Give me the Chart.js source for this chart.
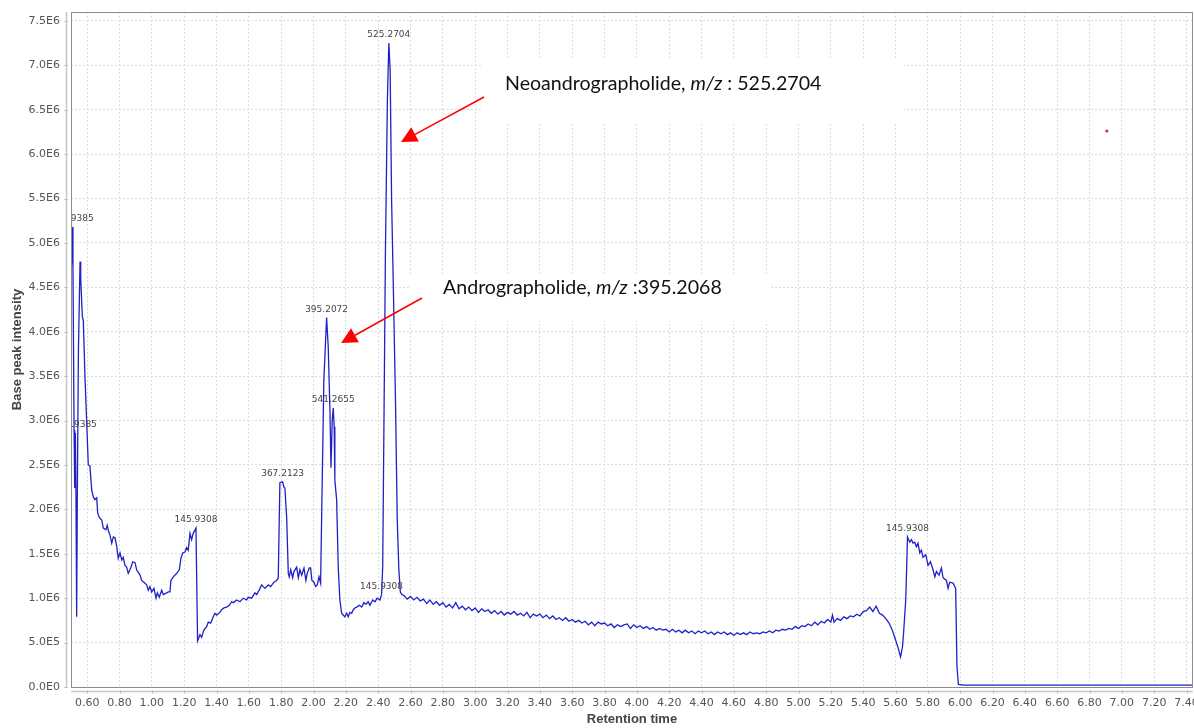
<!DOCTYPE html>
<html>
<head>
<meta charset="utf-8">
<title>Base peak chromatogram</title>
<script src="https://cdn.jsdelivr.net/npm/chart.js@4.4.1/dist/chart.umd.min.js"></script>
<style>
  html, body { margin: 0; padding: 0; background: #fff; }
  #wrap { width: 1194px; height: 728px; }
</style>
</head>
<body>
<div id="wrap"><canvas id="bpc" width="1194" height="728"></canvas></div>
<script>
// retention time (min) and base peak intensity (x 1E6)
const retentionTime = [
  0.503,0.508,0.512,0.519,0.523,0.527,0.531,0.535,0.539,0.546,
  0.556,0.560,0.570,0.576,0.587,0.599,0.607,0.617,0.628,0.638,
  0.648,0.659,0.665,0.675,0.690,0.700,0.716,0.724,0.733,0.741,
  0.752,0.762,0.772,0.783,0.792,0.803,0.814,0.823,0.834,0.844,
  0.854,0.869,0.882,0.896,0.906,0.927,0.937,0.951,0.968,0.978,
  0.988,0.999,1.013,1.026,1.034,1.046,1.061,1.071,1.092,1.102,
  1.112,1.118,1.133,1.154,1.170,1.180,1.191,1.205,1.215,1.225,
  1.236,1.246,1.256,1.273,1.283,1.298,1.308,1.322,1.339,1.349,
  1.364,1.380,1.390,1.401,1.421,1.432,1.446,1.463,1.479,1.494,
  1.504,1.525,1.545,1.565,1.586,1.596,1.617,1.638,1.648,1.664,
  1.679,1.700,1.720,1.735,1.755,1.772,1.782,1.792,1.809,1.817,
  1.823,1.834,1.844,1.850,1.859,1.871,1.879,1.896,1.906,1.916,
  1.927,1.941,1.953,1.961,1.974,1.982,1.990,2.003,2.013,2.023,
  2.034,2.044,2.050,2.064,2.081,2.091,2.102,2.108,2.116,2.122,
  2.128,2.132,2.143,2.153,2.163,2.174,2.184,2.194,2.205,2.215,
  2.225,2.236,2.246,2.256,2.267,2.283,2.298,2.312,2.324,2.338,
  2.349,2.366,2.380,2.394,2.411,2.421,2.428,2.445,2.457,2.466,
  2.474,2.483,2.493,2.507,2.518,2.528,2.537,2.547,
  2.56,2.58,2.60,2.62,2.64,2.66,2.68,2.70,2.72,2.74,
  2.76,2.78,2.80,2.82,2.84,2.86,2.88,2.90,2.92,2.94,
  2.96,2.98,3.00,3.02,3.04,3.06,3.08,3.10,3.12,3.14,
  3.16,3.18,3.20,3.22,3.24,3.26,3.28,3.30,3.32,3.34,
  3.36,3.38,3.40,3.42,3.44,3.46,3.48,3.50,3.52,3.54,
  3.56,3.58,3.60,3.62,3.64,3.66,3.68,3.70,3.72,3.74,
  3.76,3.78,3.80,3.82,3.84,3.86,3.88,3.90,3.92,3.94,
  3.96,3.98,4.00,4.02,4.04,4.06,4.08,4.10,4.12,4.14,
  4.16,4.18,4.20,4.22,4.24,4.26,4.28,4.30,4.32,4.34,
  4.36,4.38,4.40,4.42,4.44,4.46,4.48,4.50,4.52,4.54,
  4.56,4.58,4.60,4.62,4.64,4.66,4.68,4.70,4.72,4.74,
  4.76,4.78,4.80,4.82,4.84,4.86,4.88,4.90,4.92,4.94,
  4.96,4.98,5.00,5.02,5.04,5.06,5.08,5.10,5.12,5.14,
  5.16,5.18,5.20,5.21,5.22,5.24,5.26,5.28,5.30,5.32,
  5.34,5.36,5.38,5.40,5.42,5.44,5.46,5.48,5.50,5.52,
  5.54,5.56,5.58,
  5.595,5.616,5.631,5.643,5.651,5.663,5.668,5.674,5.688,
  5.699,5.708,5.719,5.729,5.739,5.750,5.760,5.770,5.787,5.801,
  5.816,5.832,5.843,5.853,5.869,5.884,5.894,5.915,5.925,5.935,
  5.956,5.972,5.980,5.989,6.018,7.438
];
const intensityE6 = [
  4.75,5.18,4.75,2.89,2.24,2.86,2.11,0.79,2.11,3.80,
  4.79,4.61,4.17,4.13,3.46,2.89,2.50,2.49,2.22,2.14,
  2.11,2.13,1.96,1.91,1.88,1.79,1.77,1.82,1.75,1.71,
  1.62,1.69,1.68,1.58,1.45,1.51,1.43,1.46,1.37,1.35,
  1.28,1.34,1.41,1.40,1.32,1.26,1.20,1.18,1.15,1.09,
  1.13,1.07,1.11,1.00,1.06,1.01,1.09,1.04,1.06,1.07,
  1.07,1.20,1.24,1.28,1.32,1.45,1.51,1.52,1.57,1.54,
  1.73,1.66,1.73,1.79,0.52,0.59,0.56,0.64,0.68,0.73,
  0.72,0.79,0.83,0.81,0.84,0.87,0.89,0.90,0.92,0.96,
  0.95,0.98,0.96,1.00,0.98,1.01,1.00,1.06,1.04,1.09,
  1.15,1.11,1.15,1.13,1.18,1.20,1.23,2.30,2.31,2.25,
  2.24,1.91,1.28,1.24,1.32,1.23,1.30,1.35,1.23,1.32,
  1.26,1.34,1.20,1.28,1.34,1.34,1.20,1.18,1.13,1.15,
  1.24,1.17,1.88,3.46,4.16,3.83,3.09,2.47,3.01,3.14,
  2.93,2.33,2.11,1.35,0.98,0.83,0.81,0.79,0.83,0.79,
  0.84,0.83,0.87,0.89,0.90,0.92,0.90,0.95,0.93,0.96,
  0.92,0.98,0.96,1.00,0.98,1.04,1.35,4.92,6.61,7.25,
  6.95,5.48,4.58,3.23,1.88,1.32,1.07,1.04,
  1.03,0.99,1.02,0.98,1.01,0.97,0.99,0.94,0.98,0.93,
  0.96,0.92,0.95,0.90,0.93,0.89,0.95,0.88,0.91,0.87,
  0.90,0.86,0.89,0.84,0.88,0.85,0.87,0.83,0.86,0.82,
  0.85,0.81,0.84,0.82,0.85,0.81,0.83,0.80,0.84,0.78,
  0.82,0.80,0.82,0.78,0.81,0.77,0.80,0.76,0.78,0.75,
  0.78,0.74,0.76,0.73,0.75,0.72,0.74,0.70,0.73,0.69,
  0.73,0.71,0.72,0.69,0.71,0.67,0.70,0.68,0.70,0.71,
  0.66,0.70,0.67,0.69,0.66,0.68,0.65,0.67,0.64,0.66,
  0.64,0.65,0.62,0.65,0.62,0.64,0.61,0.64,0.61,0.63,
  0.60,0.63,0.61,0.63,0.60,0.62,0.59,0.62,0.60,0.62,
  0.59,0.61,0.58,0.61,0.59,0.61,0.59,0.62,0.60,0.61,
  0.60,0.62,0.61,0.63,0.61,0.64,0.63,0.65,0.64,0.66,
  0.65,0.68,0.66,0.69,0.68,0.71,0.69,0.73,0.70,0.74,
  0.72,0.76,0.73,0.81,0.73,0.77,0.75,0.79,0.77,0.80,
  0.79,0.82,0.80,0.85,0.86,0.90,0.85,0.91,0.83,0.81,
  0.77,0.72,0.64,
  0.56,0.44,0.34,0.45,0.64,0.98,1.28,1.69,1.63,
  1.66,1.62,1.63,1.58,1.62,1.51,1.54,1.46,1.49,1.37,
  1.41,1.32,1.24,1.30,1.26,1.34,1.23,1.20,1.11,1.18,
  1.17,1.11,0.23,0.03,0.02,0.02
];

const xTicks = [0.60,0.80,1.00,1.20,1.40,1.60,1.80,2.00,2.20,2.40,2.60,2.80,3.00,3.20,3.40,3.60,3.80,
  4.00,4.20,4.40,4.60,4.80,5.00,5.20,5.40,5.60,5.80,6.00,6.20,6.40,6.60,6.80,7.00,7.20,7.40];
const yTicks = [0, 0.5e6, 1.0e6, 1.5e6, 2.0e6, 2.5e6, 3.0e6, 3.5e6, 4.0e6, 4.5e6, 5.0e6, 5.5e6, 6.0e6, 6.5e6, 7.0e6, 7.5e6];

// m/z labels put on the peaks
const peakTimes = [0.508, 0.527, 1.273, 1.809, 2.081, 2.122, 2.421, 2.466, 5.674];
const peakIntensityE6 = [5.18, 2.86, 1.79, 2.31, 4.16, 3.14, 1.04, 7.25, 1.69];
const peakLabels = ['145.9385', '145.9385', '145.9308', '367.2123', '395.2072', '541.2655', '145.9308', '525.2704', '145.9308'];

// the lone red dot in the upper right
const strayTime = [6.907];
const strayIntensityE6 = [6.26];

const notes = [
  {parts: [['Neoandrographolide, ', false], ['m/z', true], [' : 525.2704', false]],
    x: 505, y: 90, box: [483, 60, 421, 62], arrow: [484, 97, 401, 142]},
  {parts: [['Andrographolide, ', false], ['m/z', true], [' :395.2068', false]],
    x: 443, y: 294, box: [410, 275, 360, 46], arrow: [422, 298, 341, 343]}
];

function sciLabel(v) {
  return Number(v).toExponential(1).replace('e+', 'E').replace('e-', 'E-');
}

const overlay = {
  id: 'overlay',
  afterLayout(chart) {
    // let the plot run to the right edge like the original, the 7.40 label just gets cut
    const area = chart.chartArea;
    const xs = chart.scales.x;
    area.right = chart.width - 1;
    area.width = area.right - area.left;
    xs.right = area.right;
    xs.width = area.width;
    xs.configure();
  },
  beforeDatasetsDraw(chart) {
    const ctx = chart.ctx;
    ctx.save();
    ctx.fillStyle = '#ffffff';
    for (const n of notes) ctx.fillRect(n.box[0], n.box[1], n.box[2], n.box[3]);
    ctx.restore();
  },
  afterDatasetsDraw(chart) {
    const ctx = chart.ctx;
    const area = chart.chartArea;
    const xs = chart.scales.x, ys = chart.scales.y;

    ctx.save();
    ctx.beginPath();
    ctx.rect(area.left, area.top, area.right - area.left, area.bottom - area.top);
    ctx.clip();
    ctx.font = '9px "DejaVu Sans"';
    ctx.fillStyle = '#444444';
    ctx.textAlign = 'center';
    ctx.textBaseline = 'alphabetic';
    for (let i = 0; i < peakLabels.length; i++) {
      const px = xs.getPixelForValue(peakTimes[i]);
      const py = ys.getPixelForValue(peakIntensityE6[i] * 1e6);
      ctx.fillText(peakLabels[i], px, py - 6);
    }
    ctx.restore();

    ctx.save();
    for (const n of notes) {
      const [x1, y1, x2, y2] = n.arrow;
      const len = Math.hypot(x2 - x1, y2 - y1);
      const ux = (x2 - x1) / len, uy = (y2 - y1) / len;
      const head = 16, half = 8;
      const bx = x2 - ux * head, by = y2 - uy * head;
      ctx.strokeStyle = '#ff0000';
      ctx.lineWidth = 1.5;
      ctx.beginPath();
      ctx.moveTo(x1, y1);
      ctx.lineTo(bx, by);
      ctx.stroke();
      ctx.fillStyle = '#ff0000';
      ctx.beginPath();
      ctx.moveTo(x2, y2);
      ctx.lineTo(bx - uy * half, by + ux * half);
      ctx.lineTo(bx + uy * half, by - ux * half);
      ctx.closePath();
      ctx.fill();

      let x = n.x;
      ctx.fillStyle = '#111111';
      ctx.textAlign = 'left';
      ctx.textBaseline = 'alphabetic';
      for (const [txt, italic] of n.parts) {
        ctx.font = (italic ? 'italic ' : '') + '19.6px Lato';
        ctx.fillText(txt, x, n.y);
        x += ctx.measureText(txt).width;
      }
    }
    ctx.restore();
  },
  afterDraw(chart) {
    const ctx = chart.ctx;
    const {left, right, top, bottom} = chart.chartArea;
    ctx.save();
    ctx.strokeStyle = '#8c8c8c';
    ctx.lineWidth = 1;
    ctx.strokeRect(left + 0.5, top + 0.5, right - left - 1, bottom - top);

    ctx.strokeStyle = '#c4c4c4';
    ctx.lineWidth = 1.5;
    ctx.beginPath();
    ctx.moveTo(left - 4.5, top);
    ctx.lineTo(left - 4.5, bottom);
    ctx.moveTo(left, bottom + 4.5);
    ctx.lineTo(right, bottom + 4.5);
    ctx.stroke();

    ctx.lineWidth = 1;
    ctx.beginPath();
    for (const v of yTicks) {
      const y = Math.round(chart.scales.y.getPixelForValue(v)) + 0.5;
      ctx.moveTo(left - 7, y);
      ctx.lineTo(left - 3, y);
    }
    for (const v of xTicks) {
      const x = Math.round(chart.scales.x.getPixelForValue(v)) + 0.5;
      ctx.moveTo(x, bottom + 3);
      ctx.lineTo(x, bottom + 7);
    }
    ctx.stroke();
    ctx.restore();
  }
};

new Chart(document.getElementById('bpc'), {
  type: 'line',
  data: {
    datasets: [
      {
        data: retentionTime.map((t, i) => ({x: t, y: intensityE6[i] * 1e6})),
        borderColor: '#2020c8',
        borderWidth: 1.3,
        pointRadius: 0,
        tension: 0,
        fill: false
      },
      {
        type: 'scatter',
        data: strayTime.map((t, i) => ({x: t, y: strayIntensityE6[i] * 1e6})),
        backgroundColor: '#e8232a',
        borderColor: '#e8232a',
        pointRadius: 1.6,
        borderWidth: 0
      }
    ]
  },
  options: {
    responsive: false,
    animation: false,
    layout: {padding: {top: 12, right: 1, left: 0, bottom: 0}},
    plugins: {legend: {display: false}, tooltip: {enabled: false}},
    scales: {
      x: {
        type: 'linear',
        min: 0.5,
        max: 7.44,
        afterBuildTicks: s => { s.ticks = xTicks.map(v => ({value: v})); },
        afterFit: s => { s.height = 41; s.paddingLeft = 0; s.paddingRight = 0; },
        grid: {color: '#dcdcdc', lineWidth: 1, drawTicks: false},
        border: {display: false, dash: [2, 2]},
        ticks: {
          padding: 10,
          autoSkip: false,
          maxRotation: 0,
          color: '#555555',
          font: {family: 'DejaVu Sans', size: 11},
          callback: v => Number(v).toFixed(2)
        },
        title: {
          display: true,
          text: 'Retention time',
          color: '#444444',
          font: {family: 'Liberation Sans', size: 13, weight: 'bold'},
          padding: {top: 0, bottom: 1}
        }
      },
      y: {
        min: 0,
        max: 7.6e6,
        afterBuildTicks: s => { s.ticks = yTicks.map(v => ({value: v})); },
        afterFit: s => { s.width = 71; s.paddingTop = 0; s.paddingBottom = 0; },
        grid: {color: '#dcdcdc', lineWidth: 1, drawTicks: false},
        border: {display: false, dash: [2, 2]},
        ticks: {
          padding: 11,
          color: '#555555',
          font: {family: 'DejaVu Sans', size: 11},
          callback: v => sciLabel(v)
        },
        title: {
          display: true,
          text: 'Base peak intensity',
          color: '#444444',
          font: {family: 'Liberation Sans', size: 13, weight: 'bold'},
          padding: {top: 10, bottom: 0}
        }
      }
    }
  },
  plugins: [overlay]
});
</script>
</body>
</html>
